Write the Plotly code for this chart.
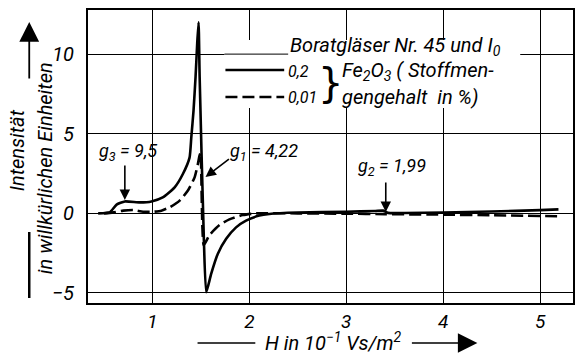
import plotly.graph_objects as go

# ---- data ----
h_solid = [0.44, 0.56, 0.63, 0.715, 0.87, 0.99, 1.106, 1.229, 1.314, 1.383, 1.401, 1.424,
           1.445, 1.462, 1.476, 1.487, 1.53, 1.555, 1.606, 1.674, 1.761, 1.863, 1.966,
           2.103, 2.206, 2.5, 3.0, 3.3, 3.38, 3.43, 3.6, 4.0, 4.5, 5.0, 5.19]
i_solid = [0.0, 0.06, 0.55, 0.75, 0.69, 0.75, 1.0, 1.63, 2.47, 3.5, 4.77, 6.45,
           8.57, 10.68, 12.0, 8.6, -1.5, -4.96, -3.8, -2.55, -1.6, -0.88, -0.46,
           -0.14, -0.04, 0.05, 0.1, 0.15, 0.17, 0.03, 0.02, 0.05, 0.12, 0.2, 0.25]

h_dash = [0.5, 0.595, 0.698, 0.801, 0.903, 1.006, 1.092, 1.178, 1.281, 1.366, 1.435,
          1.469, 1.486, 1.497, 1.530, 1.589, 1.692, 1.794, 1.931, 2.069, 2.5, 3.0,
          3.4, 4.0, 4.5, 5.2]
i_dash = [0.0, 0.06, 0.17, 0.21, 0.1, 0.1, 0.17, 0.38, 0.8, 1.43, 2.26,
          3.1, 3.62, 3.8, -1.99, -1.36, -0.73, -0.38, -0.11, 0.0, 0.0, -0.02,
          -0.05, -0.08, -0.12, -0.18]

x_ticks = [1, 2, 3, 4, 5]
y_ticks = [-5, 0, 5, 10]
y_ticktext = ["\u22125", "0", "5", "10"]

series_labels = ["0,2", "0,01"]

# ---- geometry helpers ----
W, HH = 578, 354
L, T, PW, PH = 88, 10, 487, 293
X0, X1 = 0.335, 5.34
Y0, Y1 = -5.63, 12.77

def dx(px):
    return X0 + (px - L) / PW * (X1 - X0)

def dy(py):
    return Y1 - (py - T) / PH * (Y1 - Y0)

def ppx(px):
    return (px - L) / PW

def ppy(py):
    return 1 - (py - T) / PH

FONT = "Roboto, Liberation Sans, sans-serif"
fi = lambda s: dict(family=FONT, size=s, color="black", style="italic")

fig = go.Figure()
fig.add_trace(go.Scatter(x=h_solid, y=i_solid, mode="lines",
                         line=dict(color="black", width=2.6, shape="spline", smoothing=0.5),
                         showlegend=False, hoverinfo="skip"))
fig.add_trace(go.Scatter(x=h_dash, y=i_dash, mode="lines",
                         line=dict(color="black", width=2.6, dash="12px,5px", shape="spline", smoothing=0.5),
                         showlegend=False, hoverinfo="skip"))

shapes = []
# white box behind legend text
shapes.append(dict(type="rect", xref="x", yref="y", x0=dx(225), x1=dx(522), y0=dy(108), y1=dy(40),
                   fillcolor="white", line=dict(width=0), layer="between"))
# restore gridline y=10 segment left of title
shapes.append(dict(type="line", xref="x", yref="y", x0=dx(225), x1=dx(289), y0=10, y1=10,
                   line=dict(color="black", width=1), layer="between"))
# legend samples
shapes.append(dict(type="line", xref="x", yref="y", x0=dx(226), x1=dx(285), y0=dy(70), y1=dy(70),
                   line=dict(color="black", width=2.6)))
shapes.append(dict(type="line", xref="x", yref="y", x0=dx(226), x1=dx(285), y0=dy(97), y1=dy(97),
                   line=dict(color="black", width=2.6, dash="12px,5px")))
# x title left line
shapes.append(dict(type="line", xref="paper", yref="paper", x0=ppx(198), x1=ppx(256), y0=ppy(343), y1=ppy(343),
                   line=dict(color="black", width=1.5)))
# y title bottom line
shapes.append(dict(type="line", xref="paper", yref="paper", x0=ppx(29), x1=ppx(29), y0=ppy(232), y1=ppy(298),
                   line=dict(color="black", width=2.5)))

ann = []
# legend texts
ann.append(dict(x=dx(289), y=dy(46), xref="x", yref="y", xanchor="left", yanchor="middle",
                text="Boratgläser Nr. 45 und I<sub>0</sub>", showarrow=False, font=fi(20)))
ann.append(dict(x=dx(287), y=dy(71), xref="x", yref="y", xanchor="left", yanchor="middle",
                text=series_labels[0], showarrow=False, font=fi(16)))
ann.append(dict(x=dx(287), y=dy(97), xref="x", yref="y", xanchor="left", yanchor="middle",
                text=series_labels[1], showarrow=False, font=fi(16)))
ann.append(dict(x=dx(331), y=dy(83), xref="x", yref="y", xanchor="center", yanchor="middle",
                text="}", showarrow=False, font=dict(family="DejaVu Sans", size=40, color="black")))
ann.append(dict(x=dx(341), y=dy(71), xref="x", yref="y", xanchor="left", yanchor="middle",
                text="Fe<sub>2</sub>O<sub>3</sub> ( Stoffmen-", showarrow=False, font=fi(20)))
ann.append(dict(x=dx(341), y=dy(97), xref="x", yref="y", xanchor="left", yanchor="middle",
                text="gengehalt  in %)", showarrow=False, font=fi(20)))

# g labels
ann.append(dict(x=dx(128), y=dy(152), xref="x", yref="y", text="g<sub>3</sub> = 9,5",
                showarrow=False, font=fi(18)))
ann.append(dict(x=dx(265), y=dy(152), xref="x", yref="y", text="g<sub>1</sub> = 4,22",
                showarrow=False, font=fi(18)))
ann.append(dict(x=dx(393), y=dy(167), xref="x", yref="y", text="g<sub>2</sub> = 1,99",
                showarrow=False, font=fi(18)))

def arrow(tx, ty, sx, sy, head=2, size=1.3, width=1.6, ref="x"):
    if ref == "x":
        return dict(x=dx(tx), y=dy(ty), ax=dx(sx), ay=dy(sy), xref="x", yref="y", axref="x", ayref="y",
                    text="", showarrow=True, arrowhead=head, arrowsize=size, arrowwidth=width,
                    arrowcolor="black", standoff=0, startstandoff=0)
    return dict(x=ppx(tx), y=ppy(ty), ax=sx - tx, ay=sy - ty, xref="paper", yref="paper",
                axref="pixel", ayref="pixel", text="", showarrow=True, arrowhead=head,
                arrowsize=size, arrowwidth=width, arrowcolor="black", standoff=0, startstandoff=0)

ann.append(arrow(125, 200, 125, 164))
ann.append(arrow(206, 177, 231, 158))
ann.append(arrow(387, 212, 387, 181))
# axis-title arrows
ann.append(arrow(479, 343, 412, 343, head=2, size=2.6, width=1.5, ref="p"))
ann.append(arrow(29, 22, 29, 80, head=2, size=2.2, width=1.8, ref="p"))

# axis titles as annotations
ann.append(dict(x=ppx(335), y=ppy(342), xref="paper", yref="paper", xanchor="center", yanchor="middle",
                text="H in 10<sup>\u22121</sup> Vs/m<sup>2</sup>", showarrow=False, font=fi(20)))
ann.append(dict(x=ppx(17), y=ppy(150), xref="paper", yref="paper", xanchor="center", yanchor="middle",
                text="Intensität", textangle=-90, showarrow=False, font=fi(20)))
ann.append(dict(x=ppx(45), y=ppy(168), xref="paper", yref="paper", xanchor="center", yanchor="middle",
                text="in willkürlichen Einheiten", textangle=-90, showarrow=False, font=fi(20)))

fig.update_layout(
    width=W, height=HH,
    margin=dict(l=L, r=W - L - PW, t=T, b=HH - T - PH, pad=0),
    paper_bgcolor="white", plot_bgcolor="white",
    showlegend=False,
    shapes=shapes, annotations=ann,
    xaxis=dict(range=[X0, X1], tickvals=x_ticks, ticktext=[str(v) for v in x_ticks],
               showgrid=True, gridcolor="black", gridwidth=1, zeroline=False,
               showline=True, linecolor="black", linewidth=2, mirror=True, ticks="",
               ticklabelstandoff=0, tickfont=fi(19), fixedrange=True),
    yaxis=dict(range=[Y0, Y1], tickvals=y_ticks, ticktext=y_ticktext,
               showgrid=True, gridcolor="black", gridwidth=1, zeroline=False,
               showline=True, linecolor="black", linewidth=2, mirror=True, ticks="",
               ticklabelstandoff=8, tickfont=fi(20), fixedrange=True),
)

fig.write_html("out.html", config={"displayModeBar": False})
